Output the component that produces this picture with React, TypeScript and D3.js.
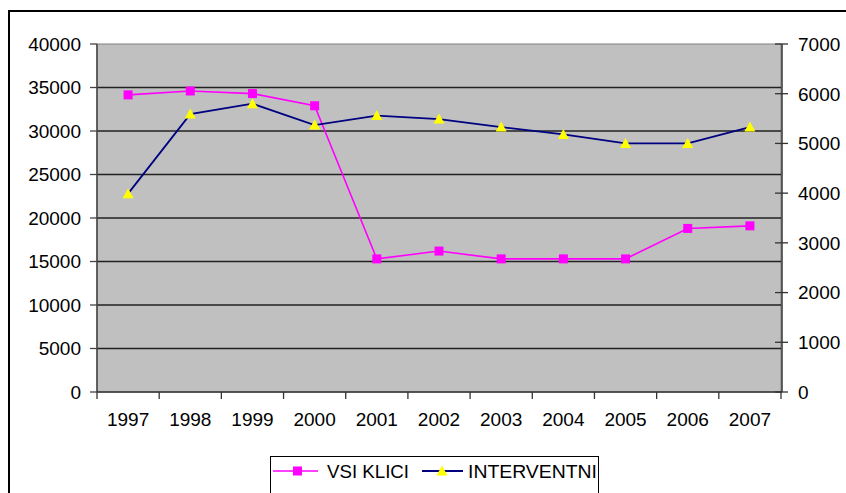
import React from "react";
import { scaleBand, scaleLinear, line, range } from "d3";

const years = ["1997", "1998", "1999", "2000", "2001", "2002", "2003", "2004", "2005", "2006", "2007"];
const vsiKlici = [34150, 34600, 34300, 32900, 15300, 16200, 15300, 15300, 15300, 18800, 19100];
const interventni = [3990, 5590, 5800, 5370, 5560, 5490, 5330, 5180, 5000, 5000, 5330];
const leftTicks = range(0, 40001, 5000);
const rightTicks = range(0, 7001, 1000);

const width = 846;
const height = 493;
const plot = { left: 97, right: 781, top: 44, bottom: 392 };
const font = "'Liberation Sans', Arial, sans-serif";
const fs = 19;

export default function App() {
  const x = scaleBand().domain(years).range([plot.left, plot.right]);
  const yLeft = scaleLinear().domain([0, 40000]).range([plot.bottom, plot.top]);
  const yRight = scaleLinear().domain([0, 7000]).range([plot.bottom, plot.top]);
  const cx = (i: number) => (x(years[i]) as number) + x.bandwidth() / 2;

  const klicPath = line<number>()
    .x((_, i) => cx(i))
    .y((d) => yLeft(d))(vsiKlici);
  const intPath = line<number>()
    .x((_, i) => cx(i))
    .y((d) => yRight(d))(interventni);

  const tri = (px: number, py: number) =>
    `M${px},${py - 5.5}L${px + 5.5},${py + 4.5}L${px - 5.5},${py + 4.5}Z`;

  return (
    <svg
      width={width}
      height={height}
      style={{ position: "absolute", left: 0, top: 0, background: "#fff" }}
      fontFamily={font}
    >
      {/* chart frame, cut off on right/bottom */}
      <rect x={9} y={11} width={900} height={600} fill="#fff" stroke="#000" strokeWidth={2} />

      {/* plot area */}
      <rect
        x={plot.left}
        y={plot.top}
        width={plot.right - plot.left}
        height={plot.bottom - plot.top}
        fill="#c0c0c0"
        stroke="#808080"
        strokeWidth={1}
      />

      {/* gridlines */}
      {leftTicks.slice(1, -1).map((t) => (
        <line key={t} x1={plot.left} x2={plot.right} y1={yLeft(t)} y2={yLeft(t)} stroke="#222" strokeWidth={1.3} />
      ))}

      {/* left axis */}
      <line x1={plot.left} x2={plot.left} y1={plot.top} y2={plot.bottom} stroke="#444" strokeWidth={1.5} />
      {leftTicks.map((t) => (
        <g key={t}>
          <line x1={plot.left - 7} x2={plot.left} y1={yLeft(t)} y2={yLeft(t)} stroke="#444" strokeWidth={1.3} />
          <text x={81} y={yLeft(t)} dy="0.36em" textAnchor="end" fontSize={fs}>
            {t}
          </text>
        </g>
      ))}

      {/* right axis */}
      <line x1={plot.right + 1} x2={plot.right + 1} y1={plot.top} y2={plot.bottom} stroke="#333" strokeWidth={1.5} />
      {rightTicks.map((t) => (
        <g key={t}>
          <line x1={plot.right - 6} x2={plot.right + 7} y1={yRight(t)} y2={yRight(t)} stroke="#333" strokeWidth={1.3} />
          <text x={798} y={yRight(t)} dy="0.36em" textAnchor="start" fontSize={fs}>
            {t}
          </text>
        </g>
      ))}

      {/* x axis */}
      <line x1={plot.left} x2={plot.right + 1} y1={plot.bottom} y2={plot.bottom} stroke="#333" strokeWidth={1.5} />
      {years.map((yr, i) => (
        <g key={yr}>
          <line
            x1={x(yr) as number}
            x2={x(yr) as number}
            y1={plot.bottom}
            y2={plot.bottom + 7}
            stroke="#333"
            strokeWidth={1.3}
          />
          <text x={cx(i)} y={426} textAnchor="middle" fontSize={fs}>
            {yr}
          </text>
        </g>
      ))}
      <line x1={plot.right} x2={plot.right} y1={plot.bottom} y2={plot.bottom + 7} stroke="#333" strokeWidth={1.3} />

      {/* series */}
      <path d={klicPath ?? ""} fill="none" stroke="#ff00ff" strokeWidth={1.6} />
      <path d={intPath ?? ""} fill="none" stroke="#000080" strokeWidth={1.8} />
      {vsiKlici.map((v, i) => (
        <rect key={i} x={cx(i) - 4.5} y={yLeft(v) - 4.5} width={9} height={9} fill="#ff00ff" />
      ))}
      {interventni.map((v, i) => (
        <path key={i} d={tri(cx(i), yRight(v))} fill="#ffff00" />
      ))}

      {/* legend */}
      <rect x={270.5} y={456.5} width={328} height={60} fill="#fff" stroke="#000" strokeWidth={1} />
      <line x1={273} x2={318} y1={471} y2={471} stroke="#ff00ff" strokeWidth={1.6} />
      <rect x={293} y={466.5} width={9} height={9} fill="#ff00ff" />
      <text x={327} y={478} fontSize={fs} textLength={82} lengthAdjust="spacingAndGlyphs">
        VSI KLICI
      </text>
      <line x1={422} x2={463} y1={471} y2={471} stroke="#000080" strokeWidth={1.8} />
      <path d={tri(442, 471)} fill="#ffff00" />
      <text x={468} y={478} fontSize={fs} textLength={129} lengthAdjust="spacingAndGlyphs">
        INTERVENTNI
      </text>
    </svg>
  );
}
